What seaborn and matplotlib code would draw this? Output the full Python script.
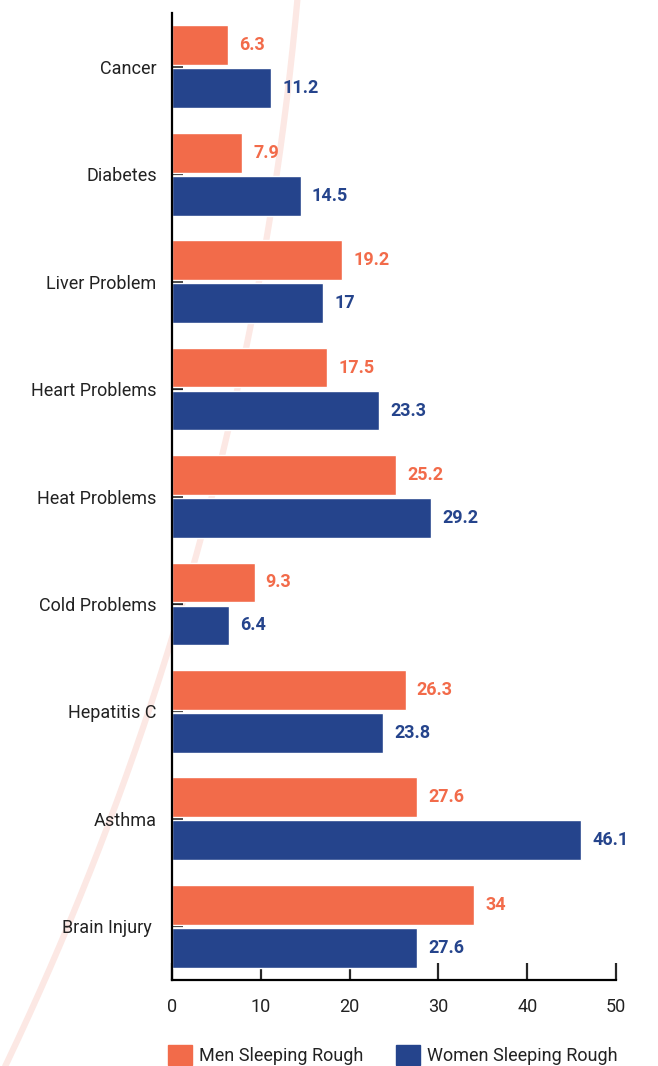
import numpy as np
import pandas as pd
import matplotlib.pyplot as plt
import seaborn as sns
from matplotlib.patches import Rectangle

sns.set_style("ticks")
plt.rcParams['font.family'] = ['Roboto', 'DejaVu Sans']

# data
conditions = ["Cancer", "Diabetes", "Liver Problem", "Heart Problems", "Heat Problems",
              "Cold Problems", "Hepatitis C", "Asthma", "Brain Injury "]
men = [6.3, 7.9, 19.2, 17.5, 25.2, 9.3, 26.3, 27.6, 34]
women = [11.2, 14.5, 17, 23.3, 29.2, 6.4, 23.8, 46.1, 27.6]
groups = ["Men Sleeping Rough", "Women Sleeping Rough"]
colors = {"Men Sleeping Rough": "#F26B4A", "Women Sleeping Rough": "#25448C"}

df = pd.DataFrame({
    "condition": conditions * 2,
    "value": men + women,
    "group": [groups[0]] * len(men) + [groups[1]] * len(women),
})

fig = plt.figure(figsize=(6.58, 10.66), dpi=100)

# faint decorative arc in the background
bg = fig.add_axes([0, 0, 1, 1], zorder=-1)
bg.set_xlim(0, 658)
bg.set_ylim(1066, 0)
bg.axis("off")
t = np.linspace(0.06, 0.47, 200)
cx, cy, r = -2820, -281, 3130
bg.plot(cx + r * np.cos(t), cy + r * np.sin(t), color="#FCE8E4", lw=4.5, solid_capstyle="butt")

ax = fig.add_axes([172 / 658, 86 / 1066, 444 / 658, 967 / 1066])
ax.patch.set_alpha(0)
sns.barplot(data=df, y="condition", x="value", hue="group", hue_order=groups,
            palette=colors, orient="h", width=0.8, gap=0.075, saturation=1,
            legend=False, ax=ax)

for cont, g in zip(ax.containers, groups):
    ax.bar_label(cont, fmt="%g", padding=8, color=colors[g], fontsize=13,
                 fontweight="bold")

ax.set_xlim(0, 50)
ax.set_ylim(8.5, -0.5)
ax.set_xticks([0, 10, 20, 30, 40, 50])
ax.set_xlabel("")
ax.set_ylabel("")
sns.despine(ax=ax)
for s in ["left", "bottom"]:
    ax.spines[s].set_linewidth(1.6)
    ax.spines[s].set_color("black")
ax.tick_params(axis="x", direction="in", length=12, width=1.6, pad=13,
               labelsize=13, labelcolor="#222222")
ax.tick_params(axis="y", direction="in", length=8, width=1.6, pad=11,
               labelsize=13, labelcolor="#222222")

handles = [Rectangle((0, 0), 1, 1, color=colors[g]) for g in groups]
fig.legend(handles, groups, loc="center", bbox_to_anchor=(0.5965, 11 / 1066),
           ncol=2, frameon=False, fontsize=13, handlelength=1.33, handleheight=1.33,
           handletextpad=0.4, columnspacing=1.8, borderpad=0, labelcolor="#222222")

fig.savefig("out.png", dpi=100)
plt.close(fig)
